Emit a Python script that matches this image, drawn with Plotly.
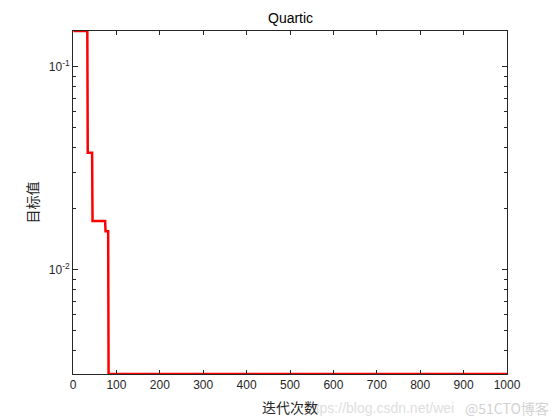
import math
import plotly.graph_objects as go

# Data
iterations = [1, 33, 34, 44, 45, 74, 75, 81, 82, 1000]
objective = [0.150, 0.150, 0.0377, 0.0377, 0.0174, 0.0174, 0.0155, 0.0155, 0.00307, 0.00307]
x_ticks = [0, 100, 200, 300, 400, 500, 600, 700, 800, 900, 1000]
y_major = [0.01, 0.1]
y_major_text = ["10<sup>-2</sup>", "10<sup>-1</sup>"]
y_minor = [0.004, 0.005, 0.006, 0.007, 0.008, 0.009,
           0.02, 0.03, 0.04, 0.05, 0.06, 0.07, 0.08, 0.09]
ymin, ymax = 0.00307, 0.150

# page body has an 8px margin: plot area in figure coordinates
OFF = 8
L, R, T, B = 73 - OFF, 507 - OFF, 31 - OFF, 374 - OFF
W, H = 560, 420
PW, PH = R - L, B - T


def px(xw):
    return (xw - OFF - L) / PW


def py(yw):
    return (B - (yw - OFF)) / PH


fig = go.Figure()
fig.add_trace(go.Scatter(x=iterations, y=objective, mode="lines",
                         line=dict(color="#ff0000", width=2.5), showlegend=False))

axcol = "#262626"
cjk = "Noto Sans CJK SC"
fig.update_layout(
    width=W, height=H,
    margin=dict(l=L, r=W - R, t=T, b=H - B),
    paper_bgcolor="white", plot_bgcolor="white",
    font=dict(family="Liberation Sans, Arial", size=12, color=axcol),
    xaxis=dict(range=[0, 1000], tickvals=x_ticks, ticks="inside", ticklen=4,
               tickcolor=axcol,
               showline=True, linecolor=axcol, linewidth=1, mirror="ticks",
               showgrid=False, zeroline=False, tickfont=dict(size=12)),
    yaxis=dict(type="log", range=[math.log10(ymin), math.log10(ymax)],
               tickvals=y_major, ticktext=y_major_text, ticks="inside", ticklen=5,
               tickcolor=axcol,
               minor=dict(tickvals=y_minor, ticks="inside", ticklen=3, tickcolor=axcol, showgrid=False),
               showline=True, linecolor=axcol, linewidth=1, mirror="ticks",
               showgrid=False, zeroline=False, tickfont=dict(size=12)),
)

# watermark (behind the labels)
fig.add_annotation(text="https://blog.csdn.net/wei", xref="paper", yref="paper",
                   x=px(456), y=py(408), xanchor="right", yanchor="middle",
                   showarrow=False, font=dict(size=14, color="#dedede"))
fig.add_annotation(text="@51CTO博客", xref="paper", yref="paper",
                   x=px(551), y=py(408), xanchor="right", yanchor="middle",
                   showarrow=False, font=dict(family=cjk, size=14, color="#d2d2d2"))

# title and axis labels
fig.add_annotation(text="Quartic", xref="paper", yref="paper",
                   x=0.5, y=py(18), xanchor="center", yanchor="middle",
                   showarrow=False, font=dict(size=14, color="black"))
fig.add_annotation(text="迭代次数", xref="paper", yref="paper",
                   x=0.5, y=py(407), xanchor="center", yanchor="middle",
                   showarrow=False, font=dict(family=cjk, size=14, color=axcol))
fig.add_annotation(text="目标值", xref="paper", yref="paper",
                   x=px(31), y=0.5, xanchor="center", yanchor="middle", textangle=-90,
                   showarrow=False, font=dict(family=cjk, size=14, color=axcol))

fig.write_html("out.html")
